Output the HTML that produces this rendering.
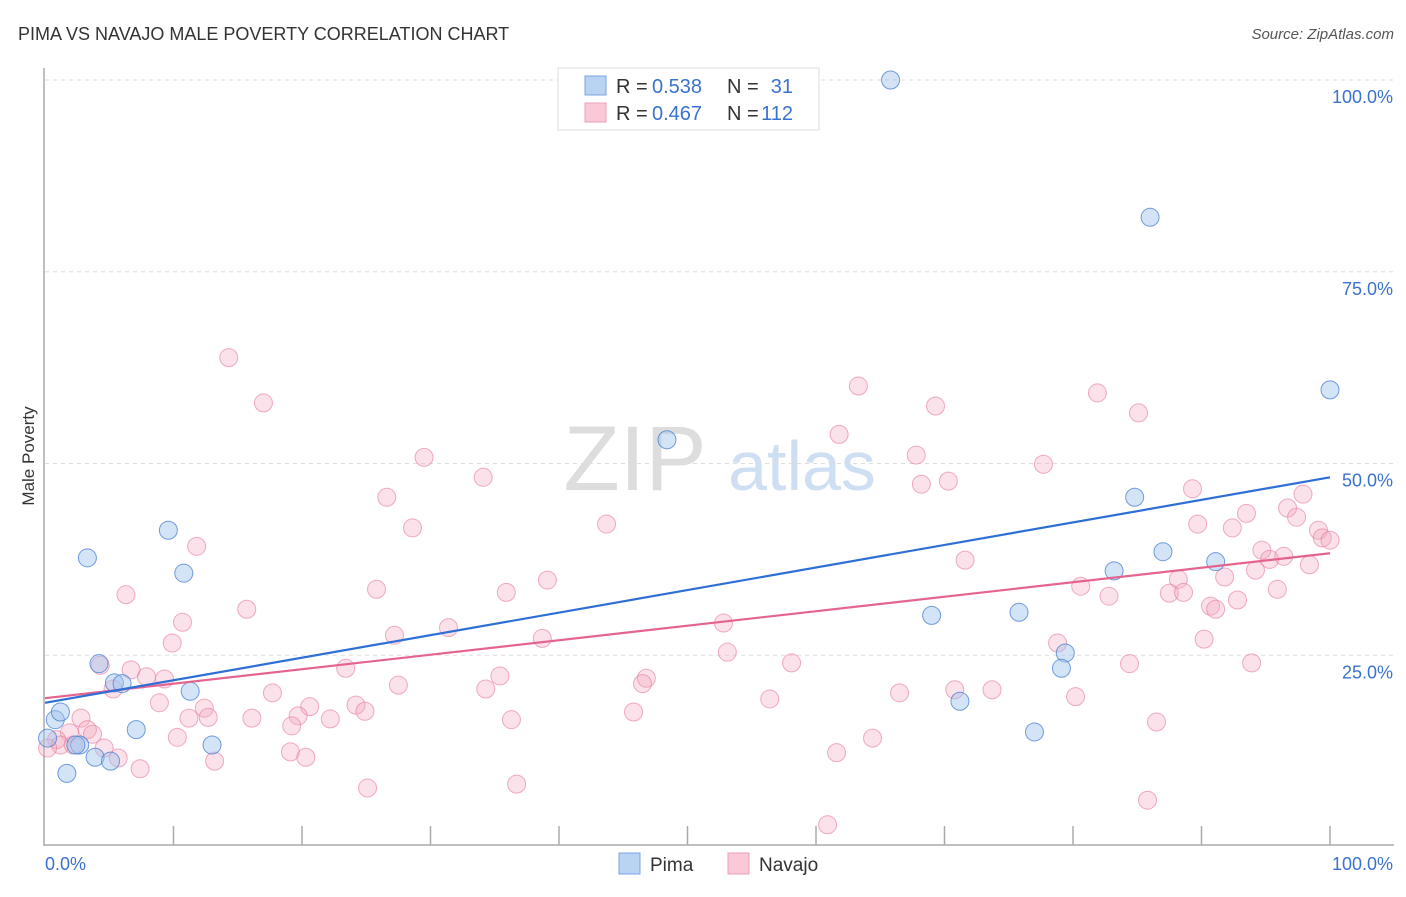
<!DOCTYPE html>
<html><head><meta charset="utf-8"><style>
body{margin:0;background:#fff;font-family:"Liberation Sans",sans-serif}
svg text{font-family:"Liberation Sans",sans-serif}
</style></head><body>
<svg id="chart" width="1406" height="892">
<text x="18" y="40" font-size="18" fill="#333">PIMA VS NAVAJO MALE POVERTY CORRELATION CHART</text>
<text x="1394" y="39" font-size="15" fill="#555" font-style="italic" text-anchor="end">Source: ZipAtlas.com</text>
<g>
<text x="635" y="490" font-size="92" fill="#ddd" text-anchor="middle" font-family="Liberation Serif,serif">ZIP</text>
<text x="802" y="490" font-size="70" fill="#cfdff3" text-anchor="middle">atlas</text>
</g>
<g id="grid"></g><g id="axes"></g><g id="marks"></g><g id="lines"></g>
<text x="34" y="456" font-size="17" fill="#333" text-anchor="middle" transform="rotate(-90 34 456)">Male Poverty</text>
<g>
<rect x="558" y="68" width="261" height="62" fill="#fff" stroke="#ddd"/>
<rect x="585" y="76" width="21" height="19" fill="#b9d3f3" stroke="#7aa6e0"/>
<rect x="585" y="103" width="21" height="19" fill="#f9c9d7" stroke="#eba0b6"/>
<text x="616" y="93" font-size="20" fill="#333">R =</text>
<text x="652" y="93" font-size="20" fill="#3a72d0">0.538</text>
<text x="727" y="93" font-size="20" fill="#333">N =</text>
<text x="793" y="93" font-size="20" fill="#3a72d0" text-anchor="end">31</text>
<text x="616" y="120" font-size="20" fill="#333">R =</text>
<text x="652" y="120" font-size="20" fill="#3a72d0">0.467</text>
<text x="727" y="120" font-size="20" fill="#333">N =</text>
<text x="793" y="120" font-size="20" fill="#3a72d0" text-anchor="end">112</text>
</g>
<g>
<rect x="619" y="853" width="21" height="21" fill="#b9d3f3" stroke="#7aa6e0"/>
<text x="650" y="871" font-size="19" fill="#333">Pima</text>
<rect x="728" y="853" width="21" height="21" fill="#f9c9d7" stroke="#eba0b6"/>
<text x="759" y="871" font-size="19" fill="#333">Navajo</text>
</g>
</svg>
<script>
const yTicks=[25,50,75,100];
const yTickLabels=["25.0%","50.0%","75.0%","100.0%"];
const xTicks=[0,10,20,30,40,50,60,70,80,90,100];
const pimaX=[65.8,86.0,100,48.4,84.8,87.0,91.1,83.2,75.8,69.0,79.4,79.1,71.2,77.0,9.6,3.3,10.8,4.2,5.4,6.0,11.3,0.8,1.2,7.1,2.7,2.4,13.0,3.9,5.1,1.7,0.2];
const pimaY=[100.0,82.1,59.6,53.1,45.6,38.5,37.2,36.0,30.6,30.2,25.3,23.3,19.0,15.0,41.3,37.7,35.7,23.9,21.4,21.3,20.3,16.6,17.6,15.3,13.3,13.3,13.3,11.7,11.2,9.6,14.2];
const navX=[14.3,17.0,29.5,34.1,26.6,28.6,43.7,11.8,6.3,25.8,39.1,35.9,10.7,15.7,9.9,31.4,27.2,38.7,4.3,6.7,7.9,9.3,23.4,35.4,34.3,27.5,17.7,5.3,8.9,12.4,20.6,24.2,24.9,19.7,11.2,12.7,16.1,22.2,36.3,2.8,3.3,3.7,1.9,0.9,1.2,2.2,0.2,4.6,5.7,19.1,20.3,13.2,7.4,25.1,36.7,10.3,19.2,63.3,69.3,61.8,67.8,68.2,70.3,77.7,71.6,81.9,85.1,52.8,53.1,46.8,46.5,45.8,56.4,58.1,66.5,70.8,73.7,80.2,80.6,82.8,84.4,86.5,85.8,64.4,61.6,60.9,78.8,89.3,93.5,97.9,96.7,97.4,89.7,92.4,99.1,99.4,100,94.7,95.3,96.4,94.2,91.8,88.2,87.5,88.6,92.8,95.9,90.7,91.1,98.4,90.2,93.9];
const navY=[63.8,57.9,50.8,48.2,45.6,41.6,42.1,39.2,32.9,33.6,34.8,33.2,29.3,31.0,26.6,28.6,27.6,27.2,23.7,23.1,22.2,21.9,23.3,22.3,20.6,21.1,20.1,20.6,18.8,18.1,18.3,18.5,17.7,17.1,16.8,16.9,16.8,16.7,16.6,16.8,15.3,14.7,14.9,14.0,13.3,13.3,12.9,12.9,11.6,12.4,11.7,11.2,10.2,7.7,8.2,14.3,15.8,60.1,57.5,53.8,51.1,47.3,47.7,49.9,37.4,59.2,56.6,29.2,25.4,22.0,21.3,17.6,19.3,24.0,20.1,20.5,20.5,19.6,34.0,32.7,23.9,16.3,6.1,14.2,12.3,2.9,26.6,46.7,43.5,46.0,44.2,43.0,42.1,41.6,41.3,40.3,40.0,38.7,37.5,37.9,36.1,35.2,34.9,33.1,33.2,32.2,33.6,31.4,31.0,36.8,27.1,24.0];
const pimaTrend=[18.8,48.2];
const navTrend=[19.4,38.3];
const NS='http://www.w3.org/2000/svg';
const X=v=>45+v*12.85, Y=v=>847-v*7.67;
function mk(t,a,p){const e=document.createElementNS(NS,t);for(const k in a)e.setAttribute(k,a[k]);p.appendChild(e);return e;}
const grid=document.getElementById('grid'),axes=document.getElementById('axes'),marks=document.getElementById('marks'),lines=document.getElementById('lines');
yTicks.forEach((v,i)=>{
 const l=mk('line',{x1:45,x2:1394,y1:Y(v),y2:Y(v),stroke:'#ddd','stroke-dasharray':'4,4'},grid);
 
 
 const t=mk('text',{x:1393,y:Y(v)+23,'font-size':18,fill:'#3a72d0','text-anchor':'end'},axes);
 t.textContent=yTickLabels[i];
 
 
});
let a=mk('line',{x1:44,x2:44,y1:68,y2:846,stroke:'#aaa','stroke-width':1.5},axes);


a=mk('line',{x1:44,x2:1394,y1:845,y2:845,stroke:'#aaa','stroke-width':1.5},axes);


xTicks.forEach(v=>{if(v===0)return;const l=mk('line',{x1:X(v),x2:X(v),y1:826,y2:845,stroke:'#aaa','stroke-width':1.5},axes);
 
 });
let t=mk('text',{x:45,y:870,'font-size':18,fill:'#3a72d0'},axes);t.textContent='0.0%';


t=mk('text',{x:1393,y:870,'font-size':18,fill:'#3a72d0','text-anchor':'end'},axes);t.textContent='100.0%';


navX.forEach((x,i)=>{const c=mk('circle',{cx:X(x),cy:Y(navY[i]),r:9,fill:'rgba(244,170,192,0.35)',stroke:'rgba(230,120,155,0.6)','stroke-width':1},marks);
 
 });
pimaX.forEach((x,i)=>{const c=mk('circle',{cx:X(x),cy:Y(pimaY[i]),r:9,fill:'rgba(160,196,238,0.45)',stroke:'rgba(70,125,210,0.75)','stroke-width':1},marks);
 
 });
let ln=mk('line',{x1:X(0),y1:Y(navTrend[0]),x2:X(100),y2:Y(navTrend[1]),stroke:'#e5648f','stroke-width':2.2},lines);


ln=mk('line',{x1:X(0),y1:Y(pimaTrend[0]),x2:X(100),y2:Y(pimaTrend[1]),stroke:'#2e6fd6','stroke-width':2.2},lines);


</script>
</body></html>
